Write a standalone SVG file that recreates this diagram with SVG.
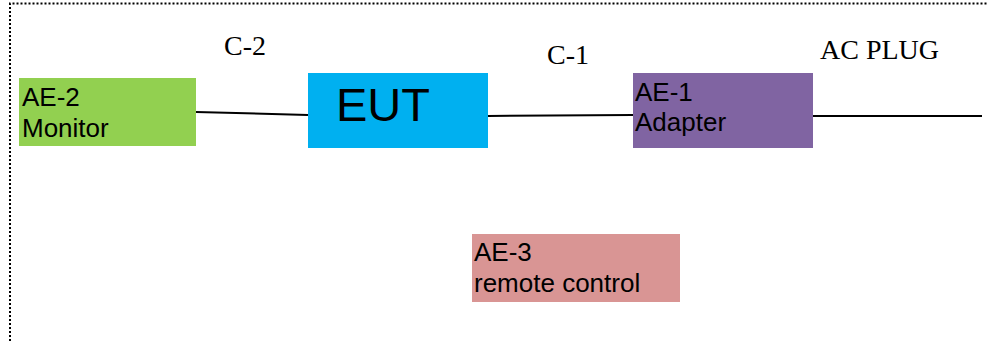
<svg xmlns="http://www.w3.org/2000/svg" width="987" height="343" viewBox="0 0 987 343">
<style>
.sans{font-family:"Liberation Sans",Arial,sans-serif;fill:#000}
.serif{font-family:"Liberation Serif","Times New Roman",serif;fill:#000;font-size:28px}
.lbl{font-size:26px}
.wire{stroke:#000;stroke-width:2;fill:none}
</style>
<rect width="987" height="343" fill="#fff"/>
<path d="M10 345 V3.5 H990" fill="none" stroke="#000" stroke-width="2" stroke-dasharray="2 2"/>
<g id="connectors">
<line class="wire" x1="196" y1="112" x2="308" y2="115"/>
<line class="wire" x1="488" y1="116" x2="633" y2="115"/>
<line class="wire" x1="813" y1="116" x2="982" y2="116"/>
</g>
<g id="labels">
<text class="serif" x="224" y="55">C-2</text>
<text class="serif" x="547" y="64">C-1</text>
<text class="serif" x="820" y="59">AC PLUG</text>
</g>
<g id="ae2">
<rect x="19" y="78" width="177" height="68" fill="#92d050"/>
<text class="sans lbl" x="22" y="106">AE-2</text>
<text class="sans lbl" x="22" y="137">Monitor</text>
</g>
<g id="eut">
<rect x="308" y="73" width="180" height="75" fill="#00b0f0"/>
<text class="sans" x="336" y="121" font-size="47">EUT</text>
</g>
<g id="ae1">
<rect x="633" y="73" width="180" height="75" fill="#8064a2"/>
<text class="sans lbl" x="635" y="101">AE-1</text>
<text class="sans lbl" x="635" y="131">Adapter</text>
</g>
<g id="ae3">
<rect x="472" y="234" width="208" height="68" fill="#d99594"/>
<text class="sans lbl" x="474" y="261">AE-3</text>
<text class="sans lbl" x="474" y="292">remote control</text>
</g>
</svg>
